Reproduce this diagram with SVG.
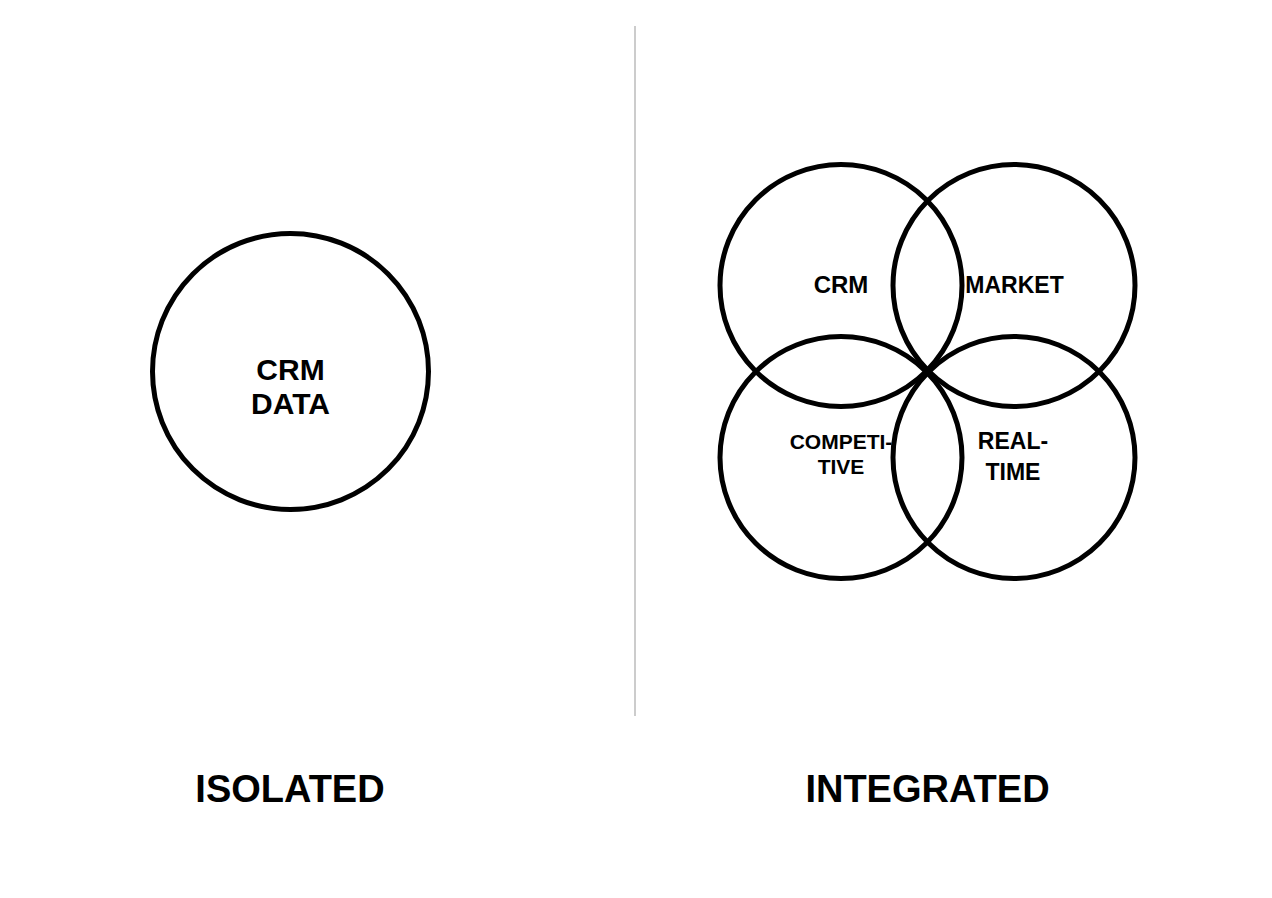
<svg xmlns="http://www.w3.org/2000/svg" width="1272" height="898" viewBox="0 0 1272 898">
<style>
.c{fill:none;stroke:#000;stroke-width:5}
text{font-family:"Liberation Sans",Arial,sans-serif;font-weight:bold;fill:#000;text-anchor:middle}
.big{font-size:38px}
.mid{font-size:30px}
.sm{font-size:23px}
.xs{font-size:21px}
</style>
<rect width="1272" height="898" fill="#fff"/>
<line x1="635" y1="26" x2="635" y2="716" stroke="#cccccc" stroke-width="2"/>
<g id="crm-data">
<circle class="c" cx="290.5" cy="371.5" r="138"/>
<text class="mid" x="290.5" y="380">CRM</text>
<text class="mid" x="290.5" y="414">DATA</text>
</g>
<g id="crm">
<circle class="c" cx="841" cy="285.5" r="121"/>
<text class="sm" x="841" y="293" style="font-size:24px">CRM</text>
</g>
<g id="market">
<circle class="c" cx="1014" cy="285.5" r="121"/>
<text class="sm" x="1014.5" y="293">MARKET</text>
</g>
<g id="competitive">
<circle class="c" cx="841" cy="457.5" r="121"/>
<text class="xs" x="841" y="449">COMPETI-</text>
<text class="xs" x="841" y="474">TIVE</text>
</g>
<g id="realtime">
<circle class="c" cx="1014" cy="457.5" r="121"/>
<text class="sm" x="1013" y="449">REAL-</text>
<text class="sm" x="1013" y="480">TIME</text>
</g>
<g id="connectors"></g>
<text class="big" x="290" y="802">ISOLATED</text>
<text class="big" x="927.5" y="802">INTEGRATED</text>
</svg>
